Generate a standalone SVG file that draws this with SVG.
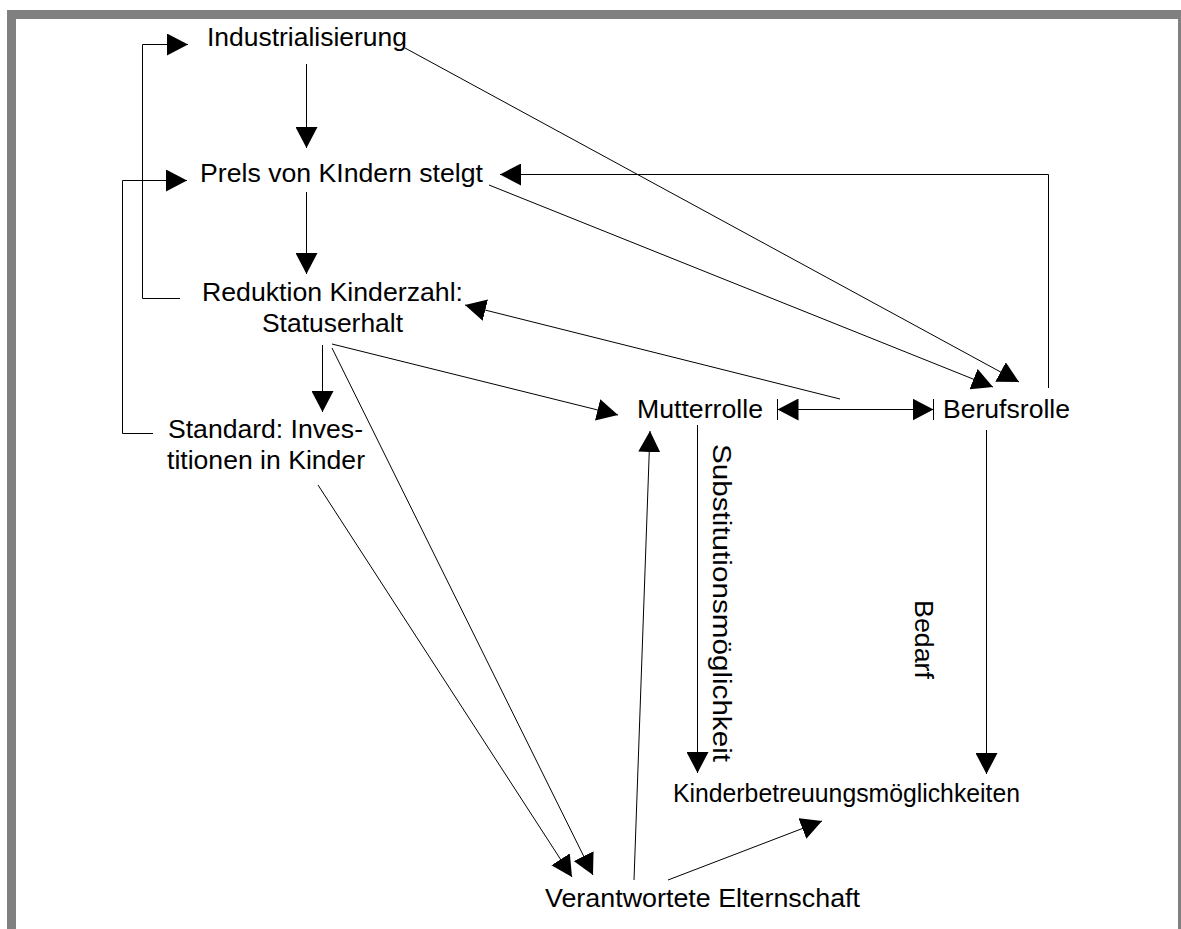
<svg xmlns="http://www.w3.org/2000/svg" width="1181" height="929" viewBox="0 0 1181 929">
<defs>
<style>
.t{font-family:"Liberation Sans",Arial,sans-serif;font-size:26.5px;fill:#000}
.c{fill:none;stroke:#000;stroke-width:1}
</style>
<marker id="ah" viewBox="0 0 21 22" refX="21" refY="11" markerWidth="21" markerHeight="22" markerUnits="userSpaceOnUse" orient="auto-start-reverse">
<path d="M0,0 L21,11 L0,22 z" fill="#000"/>
</marker>
</defs>
<rect x="0" y="0" width="1181" height="929" fill="#fff"/>
<rect x="11.5" y="14.5" width="1171" height="930" fill="none" stroke="#808080" stroke-width="9"/>
<g id="connectors">
<path class="c" d="M306.5,64 L306.5,148" marker-end="url(#ah)"/>
<path class="c" d="M306.5,192 L306.5,274" marker-end="url(#ah)"/>
<path class="c" d="M322.5,345 L322.5,412" marker-end="url(#ah)"/>
<path class="c" d="M180,298.5 H142.5 V44.5 H188" marker-end="url(#ah)"/>
<path class="c" d="M153,433.5 H122.5 V180.5 H187" marker-end="url(#ah)"/>
<path class="c" d="M405,48 L1019,382" marker-end="url(#ah)"/>
<path class="c" d="M489,185 L993,387" marker-end="url(#ah)"/>
<path class="c" d="M1048.5,388 V174.5 H500" marker-end="url(#ah)"/>
<path class="c" d="M840,399 L465,305" marker-end="url(#ah)"/>
<path class="c" d="M332,344 L618,415" marker-end="url(#ah)"/>
<path class="c" d="M332,348 L593,875" marker-end="url(#ah)"/>
<path class="c" d="M318,485 L572,877" marker-end="url(#ah)"/>
<path class="c" d="M634,880 L650,431" marker-end="url(#ah)"/>
<path class="c" d="M668,880 L822,821" marker-end="url(#ah)"/>
<path class="c" d="M697.5,425 V773" marker-end="url(#ah)"/>
<path class="c" d="M986.5,430 V774" marker-end="url(#ah)"/>
<path class="c" d="M777.5,409.5 H933.5" marker-start="url(#ah)" marker-end="url(#ah)"/>
<path class="c" d="M777.5,399 V420 M933.5,399 V420"/>
<text class="t" transform="translate(713,444) rotate(90)" textLength="318" lengthAdjust="spacingAndGlyphs">Substitutionsmöglichkeit</text>
<text class="t" transform="translate(915,600) rotate(90)" textLength="79" lengthAdjust="spacingAndGlyphs">Bedarf</text>
</g>
<g id="n-industrialisierung"><text class="t" x="207" y="46" textLength="200" lengthAdjust="spacingAndGlyphs">Industrialisierung</text></g>
<g id="n-preis"><text class="t" x="200" y="182" textLength="283" lengthAdjust="spacingAndGlyphs">Prels von KIndern stelgt</text></g>
<g id="n-reduktion"><text class="t" x="202" y="301" textLength="261" lengthAdjust="spacingAndGlyphs">Reduktion Kinderzahl:</text><text class="t" x="262" y="332" textLength="141" lengthAdjust="spacingAndGlyphs">Statuserhalt</text></g>
<g id="n-standard"><text class="t" x="168" y="438" textLength="195" lengthAdjust="spacingAndGlyphs">Standard: Inves-</text><text class="t" x="167" y="469" textLength="198" lengthAdjust="spacingAndGlyphs">titionen in Kinder</text></g>
<g id="n-mutterrolle"><text class="t" x="637" y="418" textLength="126" lengthAdjust="spacingAndGlyphs">Mutterrolle</text></g>
<g id="n-berufsrolle"><text class="t" x="943" y="418" textLength="127" lengthAdjust="spacingAndGlyphs">Berufsrolle</text></g>
<g id="n-kinderbetreuung"><text class="t" x="673" y="802" textLength="347" lengthAdjust="spacingAndGlyphs">Kinderbetreuungsmöglichkeiten</text></g>
<g id="n-verantwortete"><text class="t" x="545" y="907" textLength="315" lengthAdjust="spacingAndGlyphs">Verantwortete Elternschaft</text></g>
</svg>
